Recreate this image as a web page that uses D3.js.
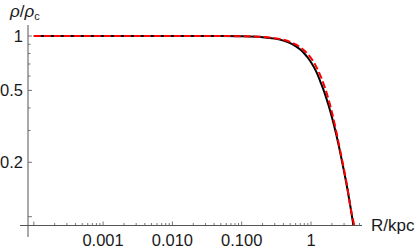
<!DOCTYPE html>
<html>
<head>
<meta charset="utf-8">
<script src="https://cdn.jsdelivr.net/npm/d3@7"></script>
<style>
  body { margin: 0; background: #fff; }
  text { font-family: "Liberation Sans", Arial, sans-serif; fill: #1a1a1a; }
</style>
</head>
<body>
<div class="chart"></div>
<script>
var svgWidth = 415;
var svgHeight = 250;

// black solid curve, R in kpc and rho / rho_c
var blackR = [0.0001, 0.001, 0.01, 0.05, 0.1, 0.2, 0.3, 0.4, 0.5, 0.6, 0.7, 0.8, 0.9, 1.0,
  1.2, 1.4, 1.6, 1.8, 2.0, 2.3, 2.6, 3.0, 3.4, 3.7, 4.08];
var blackRho = [1, 1, 1, 0.999, 0.996, 0.985, 0.967, 0.943, 0.913, 0.879, 0.841, 0.800, 0.758, 0.716,
  0.631, 0.545, 0.474, 0.411, 0.356, 0.288, 0.233, 0.178, 0.138, 0.114, 0.09];

// red dashed curve
var redR = [0.0001, 0.001, 0.01, 0.05, 0.1, 0.2, 0.3, 0.4, 0.5, 0.6, 0.7, 0.8, 0.9, 1.0,
  1.2, 1.4, 1.6, 1.8, 2.0, 2.3, 2.6, 3.0, 3.4, 3.7, 4.2];
var redRho = [1, 1, 1, 0.999, 0.997, 0.988, 0.973, 0.953, 0.928, 0.899, 0.866, 0.831, 0.794, 0.755,
  0.672, 0.590, 0.513, 0.443, 0.380, 0.300, 0.238, 0.182, 0.140, 0.114, 0.09];

var xTickValues = [0.001, 0.01, 0.1, 1];
var xTickLabels = ["0.001", "0.010", "0.100", "1"];
var yTickValues = [1, 0.5, 0.2];
var yTickLabels = ["1", "0.5", "0.2"];

var svg = d3.select(".chart")
  .append("svg")
  .attr("width", svgWidth)
  .attr("height", svgHeight);

var xScale = d3.scaleLog().domain([1e-4, 10]).range([33.8, 380.3]);
var yScale = d3.scaleLog().domain([0.1, 1]).range([216.7, 36]);

var axisX0 = 28, axisY0 = 225.5;
var axisColor = "#555";

// x axis line
svg.append("line")
  .attr("x1", 20).attr("x2", 362)
  .attr("y1", axisY0).attr("y2", axisY0)
  .attr("stroke", axisColor).attr("stroke-width", 1);

// y axis line
svg.append("line")
  .attr("x1", axisX0).attr("x2", axisX0)
  .attr("y1", 25).attr("y2", 237)
  .attr("stroke", axisColor).attr("stroke-width", 1);

// x ticks (major + minor)
var xTicks = [];
[1e-4, 1e-3, 1e-2, 1e-1, 1].forEach(function(d) {
  for (var k = 1; k <= 9; k++) {
    var v = d * k;
    if (xScale(v) < 361) xTicks.push({ v: v, major: k === 1 });
  }
});
svg.selectAll(".xtick")
  .data(xTicks)
  .enter()
  .append("line")
  .attr("class", "xtick")
  .attr("x1", function(d) { return xScale(d.v); })
  .attr("x2", function(d) { return xScale(d.v); })
  .attr("y1", axisY0)
  .attr("y2", function(d) { return axisY0 - (d.major ? 4 : 2.5); })
  .attr("stroke", axisColor).attr("stroke-width", 0.8);

svg.selectAll(".xlabel")
  .data(xTickValues)
  .enter()
  .append("text")
  .attr("class", "xlabel")
  .attr("x", function(d) { return xScale(d); })
  .attr("y", 246)
  .attr("text-anchor", "middle")
  .style("font-size", "16.5px")
  .text(function(d, i) { return xTickLabels[i]; });

// y ticks
var yTicks = [];
for (var k = 1; k <= 10; k++) {
  yTicks.push({ v: k / 10, major: k === 1 || k === 2 || k === 5 || k === 10 });
}
svg.selectAll(".ytick")
  .data(yTicks)
  .enter()
  .append("line")
  .attr("class", "ytick")
  .attr("y1", function(d) { return yScale(d.v); })
  .attr("y2", function(d) { return yScale(d.v); })
  .attr("x1", axisX0)
  .attr("x2", function(d) { return axisX0 + (d.major ? 4 : 2.5); })
  .attr("stroke", axisColor).attr("stroke-width", 0.8);

svg.selectAll(".ylabel")
  .data(yTickValues)
  .enter()
  .append("text")
  .attr("class", "ylabel")
  .attr("x", 23)
  .attr("y", function(d) { return yScale(d) + 6; })
  .attr("text-anchor", "end")
  .style("font-size", "16.5px")
  .text(function(d, i) { return yTickLabels[i]; });

// axis titles
var yTitle = svg.append("text")
  .attr("x", 10)
  .attr("y", 17)
  .style("font-size", "17px");
yTitle.append("tspan").style("font-style", "italic").text("ρ");
yTitle.append("tspan").text("/");
yTitle.append("tspan").style("font-style", "italic").text("ρ");
yTitle.append("tspan").attr("dy", 3).style("font-size", "11px").text("c");

svg.append("text")
  .attr("x", 371)
  .attr("y", 231)
  .style("font-size", "17px")
  .text("R/kpc");

// curves
var line = d3.line()
  .x(function(d) { return xScale(d[0]); })
  .y(function(d) { return yScale(d[1]); })
  .curve(d3.curveMonotoneX);

svg.append("path")
  .datum(d3.zip(blackR, blackRho))
  .attr("d", line)
  .attr("fill", "none")
  .attr("stroke", "#000")
  .attr("stroke-width", 2);

svg.append("path")
  .datum(d3.zip(redR, redRho))
  .attr("d", line)
  .attr("fill", "none")
  .attr("stroke", "#ff0000")
  .attr("stroke-width", 2)
  .attr("stroke-dasharray", "7,3");
</script>
</body>
</html>
